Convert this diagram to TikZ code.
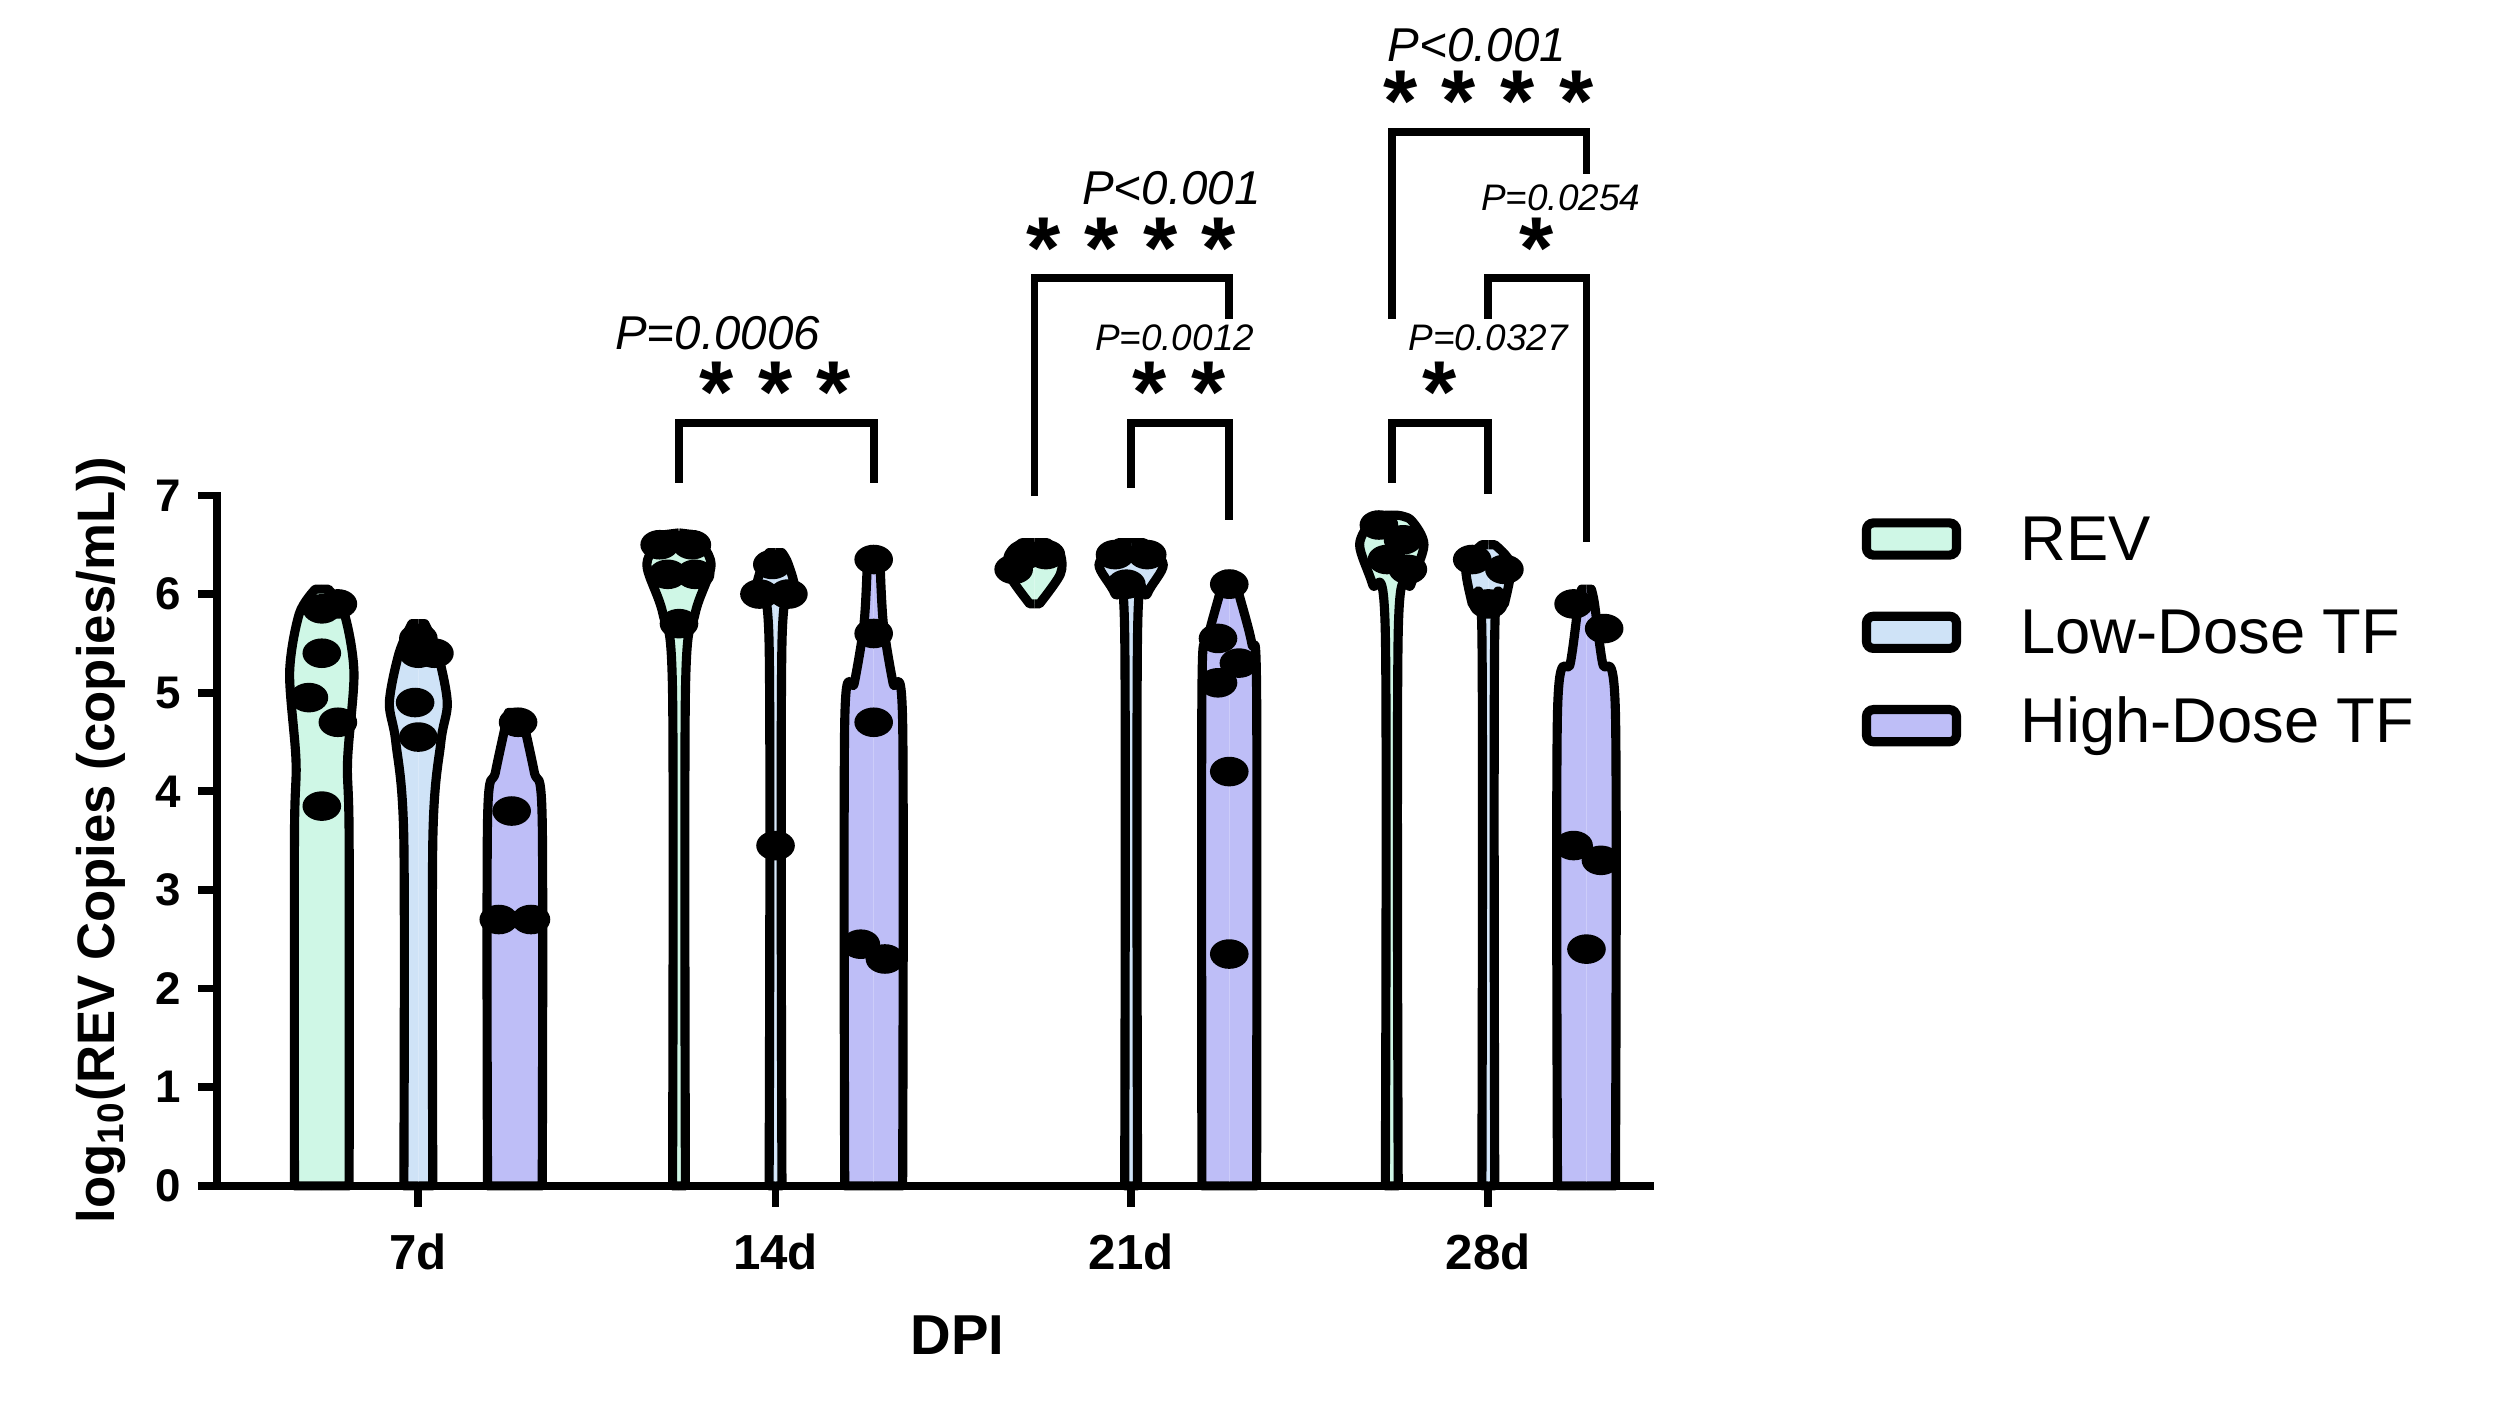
\documentclass[tikz,border=0pt]{standalone}
\usepackage{fontspec}
\setmainfont{Liberation Sans}
\begin{document}
\begin{tikzpicture}[x=0.01609cm,y=-0.01609cm,
  vl/.style={line width=2.6pt,line join=round},
  br/.style={line width=2.2pt},
  st/.style={font=\fontsize{25}{25}\selectfont\bfseries},
  pl/.style={font=\fontsize{13.5}{14}\selectfont\itshape},
  ps/.style={font=\fontsize{10.5}{11}\selectfont\itshape},
  tk/.style={font=\fontsize{13}{14}\selectfont\bfseries}]
\definecolor{crev}{HTML}{CFF7E6}
\definecolor{clow}{HTML}{CFE3F7}
\definecolor{chigh}{HTML}{BEBEF7}
\useasboundingbox (0,0) rectangle (1560,875);
\newcommand\vio[3]{%
 \begin{scope}[shift={(#1,737)},yscale=-61.3]
 \foreach \s in {1,-1}{\begin{scope}[xscale=\s]
   \fill[#2] \vstart -- plot[smooth] coordinates {#3} -- \vend -- cycle;
   \draw[vl] \vstart -- plot[smooth] coordinates {#3} -- \vend;
 \end{scope}}
 \end{scope}}
\newcommand\pts[1]{%
 \begin{scope}[shift={(0,737)},yscale=-61.3]
 \foreach \a/\b in {#1}{\fill (\a,\b) ellipse [x radius=12,y radius=0.15];}
 \end{scope}}
% violins
\def\vstart{(0,0)}
\def\vend{(0,6.05)}\vio{200}{crev}{(17,0)(17,3.5)(16,4.3)(20,5.2)(14,5.8)(4,6.05)}
\def\vend{(0,5.7)}\vio{260}{clow}{(9,0)(9,3.5)(14,4.5)(18,4.9)(12,5.4)(4,5.7)}
\def\vend{(0,4.8)}\vio{320}{chigh}{(17,0)(17,3.7)(12,4.2)(4,4.8)}
\def\vend{(0,6.62)}\vio{422}{crev}{(4,0)(4,5.0)(10,5.8)(20,6.3)(10,6.6)}
\def\vend{(0,6.42)}\vio{482}{clow}{(4,0)(4,5.5)(12,6.0)(8,6.3)(4,6.42)}
\def\vend{(0,6.42)}\vio{543}{chigh}{(18,0)(18,4.7)(12,5.1)(6,5.7)(4,6.3)}
\def\vstart{(0,5.9)}\def\vend{(0,6.52)}\vio{643}{crev}{(3,5.9)(16,6.2)(16,6.4)(8,6.52)}
\def\vstart{(0,0)}
\def\vend{(0,6.52)}\vio{703}{clow}{(4,0)(4,5.6)(10,6.0)(20,6.3)(8,6.52)}
\def\vend{(0,6.2)}\vio{764}{chigh}{(17,0)(17,5.0)(14,5.5)(6,6.0)(3,6.2)}
\def\vend{(0,6.8)}\vio{865}{crev}{(4,0)(4,5.6)(12,6.1)(20,6.5)(12,6.75)(3,6.8)}
\def\vend{(0,6.5)}\vio{925}{clow}{(4,0)(4,5.6)(10,5.9)(14,6.3)(4,6.5)}
\def\vend{(0,6.05)}\vio{986}{chigh}{(18,0)(18,4.8)(10,5.3)(5,5.9)(3,6.05)}
% points
\pts{200/5.85,210/5.9,192/4.95,210/4.7,200/3.85,200/5.4,260/5.4,270/5.4,258/4.9,260/4.55,260/5.55,322/4.7,318/3.8,310/2.7,330/2.7,410/6.5,430/6.5,415/6.2,432/6.2,422/5.7,480/6.3,490/6.0,472/6.0,482/3.45,543/6.35,543/5.6,543/4.7,535/2.45,550/2.3,637/6.4,650/6.4,630/6.25,693/6.4,713/6.4,700/6.1,764/6.1,757/5.55,770/5.3,757/5.1,764/4.2,764/2.35,857/6.7,872/6.55,862/6.35,875/6.25,915/6.35,935/6.25,925/5.9,978/5.9,997/5.65,978/3.45,995/3.3,986/2.4}
% axes
\draw[line width=2.2pt] (135,306) -- (135,737) -- (1028,737);
\foreach \v in {0,...,7}{
  \draw[line width=2.2pt] (123,737-61.3*\v) -- (135,737-61.3*\v);
  \node[tk,anchor=east] (yt\v) at (120,737-61.3*\v) {\v};}
\foreach \x/\l in {260/7d,482/14d,703/21d,925/28d}{
  \draw[line width=2.2pt] (\x,737) -- (\x,750);
  \node[font=\fontsize{14}{15}\selectfont\bfseries] (xt\l) at (\x,778) {\l};}
\node[font=\fontsize{16}{17}\selectfont\bfseries] (dpi) at (595,830) {DPI};
\node[font=\fontsize{15}{16}\selectfont\bfseries,rotate=90] (yl) at (63,522) {log$_{\mathbf{10}}$(REV Copies (copies/mL))};
% brackets
\draw[br] (422,300) -- (422,263) -- (543,263) -- (543,300);
\node[st] (s1) at (482,244) {* * *};
\node[pl] (p1) at (446,207) {P=0.0006};
\draw[br] (643,308) -- (643,173) -- (764,173) -- (764,198);
\node[st] (s2) at (703,154) {* * * *};
\node[pl] (p2) at (728,117) {P<0.001};
\draw[br] (703,303) -- (703,263) -- (764,263) -- (764,323);
\node[st] (s3) at (733,244) {* *};
\node[ps] (p3) at (730,210) {P=0.0012};
\draw[br] (865,198) -- (865,82) -- (986,82) -- (986,108);
\node[st] (s4) at (925,63) {* * * *};
\node[pl] (p4) at (918,28) {P<0.001};
\draw[br] (925,198) -- (925,173) -- (986,173) -- (986,337);
\node[st] (s5) at (955,154) {*};
\node[ps] (p5) at (970,123) {P=0.0254};
\draw[br] (865,300) -- (865,263) -- (925,263) -- (925,307);
\node[st] (s6) at (895,244) {*};
\node[ps] (p6) at (925,210) {P=0.0327};
% legend
\foreach \y/\c/\t [count=\i] in {335/crev/REV,393/clow/Low-Dose TF,451/chigh/High-Dose TF}{
  \draw[line width=2.6pt,fill=\c,rounded corners=2pt] (1160,\y-10) rectangle (1216,\y+10);
  \node[anchor=west,font=\fontsize{18}{19}\selectfont] (lg\i) at (1248,\y) {\t};}
\end{tikzpicture}
\end{document}
